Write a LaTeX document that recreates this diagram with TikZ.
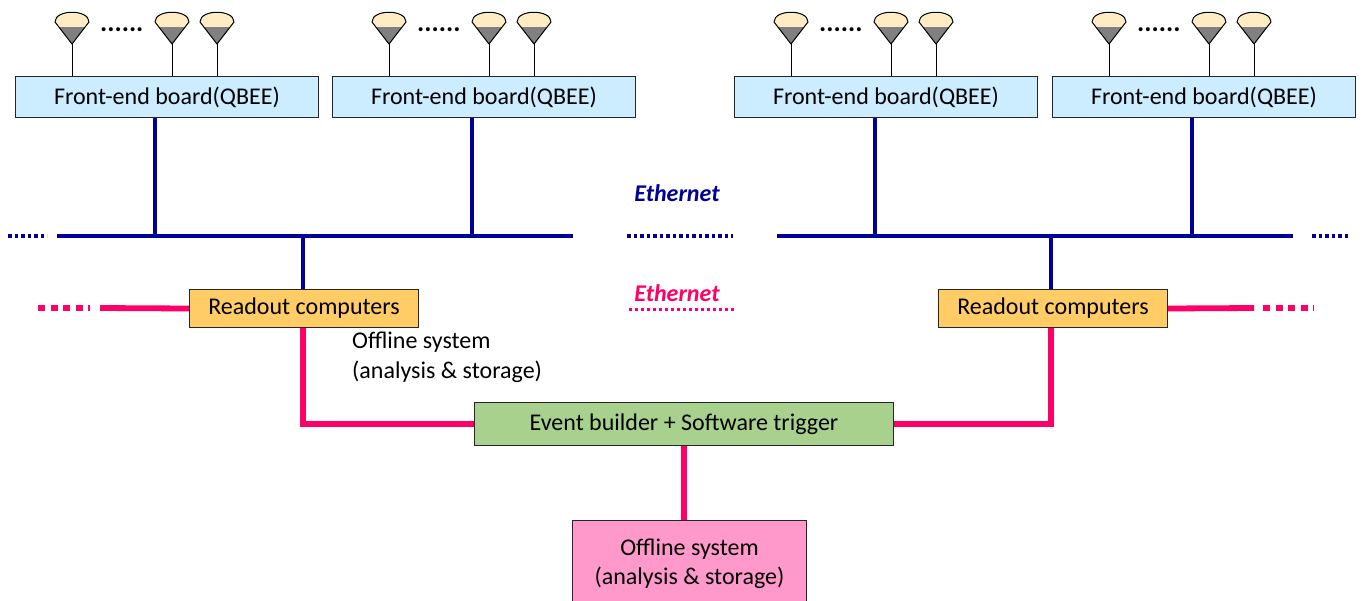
\documentclass[tikz,border=0pt]{standalone}
\usepackage{fontspec}
\setmainfont{Carlito}
\definecolor{feblue}{HTML}{CCECFF}
\definecolor{roorange}{HTML}{FFCC66}
\definecolor{ebgreen}{HTML}{A9D18E}
\definecolor{offpink}{HTML}{FF99CC}
\definecolor{busblue}{HTML}{000099}
\definecolor{linkpink}{HTML}{FF0066}
\definecolor{pmtcream}{HTML}{FFEBC4}
\definecolor{pmtgray}{HTML}{808080}
\newcommand\pmtdraw[1]{%
  \begin{scope}[shift={(#1,0)}]
    \fill[pmtgray] (-17,22) .. controls (-17,9) and (17,9) .. (17,22) -- (0,44) -- cycle;
    \begin{scope}
      \clip (-20,0) rectangle (20,26);
      \fill[pmtcream] (-17,22) .. controls (-17,9) and (17,9) .. (17,22) -- (0,44) -- cycle;
    \end{scope}
    \draw[line width=1pt, line join=round] (-17,22) .. controls (-17,9) and (17,9) .. (17,22) -- (0,44) -- cycle;
  \end{scope}}
\begin{document}
\begin{tikzpicture}[x=1pt,y=-1pt,
  box/.style={draw=black!85, line width=1pt, inner sep=0pt, font=\fontsize{24}{29}\selectfont, align=center, anchor=north west},
  fe/.style={box, fill=feblue, minimum width=303, minimum height=41},
  ro/.style={box, fill=roorange, minimum width=229, minimum height=38},
  eb/.style={box, fill=ebgreen, minimum width=419, minimum height=43},
  off/.style={box, fill=offpink, minimum width=234, minimum height=86},
  stem/.style={draw=black, line width=1pt},
  bus/.style={draw=busblue, line width=3.5pt},
  busdot/.style={bus, dash pattern=on 3.5pt off 3pt},
  link/.style={draw=linkpink, line width=5.8pt},
  linkdash/.style={link, dash pattern=on 7pt off 5.5pt},
  linkdot/.style={draw=linkpink, line width=3pt, dash pattern=on 3pt off 3pt},
  dots/.style={inner sep=0pt, anchor=base west, font=\fontsize{27}{30}\selectfont\bfseries},
  eth/.style={inner sep=0pt, font=\fontsize{24}{28}\selectfont\bfseries\itshape},
  plain/.style={inner sep=0pt, font=\fontsize{24}{30}\selectfont, align=left, anchor=west}
]
\useasboundingbox (0,0) rectangle (1364,600);

% front-end boards with PMTs
\foreach \o/\n in {0/1,317/2,719/3,1037/4} {
  \node[fe] (fe\n) at (15+\o,76) {Front-end board(QBEE)};
  \foreach \p in {72,172,217} {
    \pmtdraw{\p+\o}
    \draw[stem] (\p+\o,44) -- (\p+\o,76);
  }
  \node[dots] (dots\n) at (100+\o,31) {......};
}

% readout, event builder, offline
\node[ro] (ro1) at (189,289) {Readout computers};
\node[ro] (ro2) at (938,289) {Readout computers};
\node[eb] (eb) at (474,402) {Event builder + Software trigger};
\node[off] (off) at (572,520) {Offline system\\(analysis \& storage)};
\node[plain] (offtxt) at (352,357) {Offline system\\(analysis \& storage)};

% Ethernet labels
\node[eth, text=busblue] (eth1) at (677,193) {Ethernet};
\node[eth, text=linkpink] (eth2) at (677,293) {Ethernet};

% blue bus lines
\coordinate (busL0) at (57,236);
\coordinate (busL1) at (573,236);
\coordinate (busR0) at (777,236);
\coordinate (busR1) at (1293,236);
\draw[bus] (busL0) -- (busL1);
\draw[bus] (busR0) -- (busR1);
\coordinate (dL0) at (8,236);   \coordinate (dL1) at (47,236);
\coordinate (dM0) at (627,236); \coordinate (dM1) at (733,236);
\coordinate (dR0) at (1312,236);\coordinate (dR1) at (1350,236);
\draw[busdot] (dL0) -- (dL1);
\draw[busdot] (dM0) -- (dM1);
\draw[busdot] (dR0) -- (dR1);

\coordinate (b1) at (155,236);
\coordinate (b2) at (472,236);
\coordinate (b3) at (875,236);
\coordinate (b4) at (1192,236);
\foreach \n in {1,2,3,4} { \draw[bus] (fe\n.south -| b\n) -- (b\n); }

\coordinate (r1) at (303,236);
\coordinate (r2) at (1051,236);
\draw[bus] (r1) -- (ro1.north -| r1);
\draw[bus] (r2) -- (ro2.north -| r2);

% pink links
\coordinate (pL0) at (100,308);
\coordinate (pL1) at (38,308);  \coordinate (pL2) at (90,308);
\coordinate (pR0) at (1254,308);
\coordinate (pR1) at (1263,308);\coordinate (pR2) at (1314,308);
\draw[link] (ro1.west) -- (pL0);
\draw[linkdash] (pL1) -- (pL2);
\draw[link] (ro2.east) -- (pR0);
\draw[linkdash] (pR1) -- (pR2);
\coordinate (pM0) at (629,309); \coordinate (pM1) at (735,309);
\draw[linkdot] (pM0) -- (pM1);

\draw[link] (ro1.south -| r1) |- (eb.west);
\draw[link] (ro2.south -| r2) |- (eb.east);
\draw[link] (eb.south) -- (eb.south |- off.north);
\end{tikzpicture}
\end{document}
